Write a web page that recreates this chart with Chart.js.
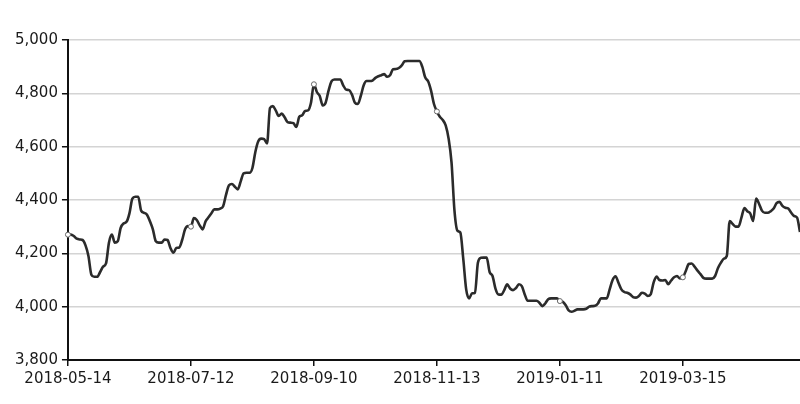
<!DOCTYPE html>
<html>
<head>
<meta charset="utf-8">
<script src="https://cdn.jsdelivr.net/npm/chart.js@4/dist/chart.umd.min.js"></script>
<style>
  html, body { margin: 0; padding: 0; background: #fff; overflow: hidden; }
  /* the original picture is cropped on the right, so the canvas runs a little past it */
  #wrap { width: 800px; height: 404px; overflow: hidden; }
</style>
</head>
<body>
<div id="wrap"><canvas id="chart" width="805" height="404"></canvas></div>
<script>
// Tick dates shown on the x axis (one every STEP points)
const tickDates = ['2018-05-14', '2018-07-12', '2018-09-10', '2018-11-13', '2019-01-11', '2019-03-15'];
const STEP = 42;

// Index level
const indexValues = [
  4270, 4270, 4265, 4255, 4252, 4250, 4230, 4190, 4120, 4112,
  4112, 4130, 4150, 4162, 4240, 4270, 4240, 4245, 4295, 4312,
  4318, 4350, 4405, 4412, 4412, 4360, 4352, 4345, 4320, 4290,
  4245, 4240, 4240, 4252, 4250, 4220, 4202, 4220, 4222, 4250,
  4290, 4302, 4300, 4332, 4325, 4305, 4290, 4320, 4335, 4350,
  4365, 4365, 4368, 4377, 4420, 4455, 4460, 4450, 4440, 4470,
  4500, 4502, 4502, 4520, 4580, 4620, 4630, 4628, 4612, 4745,
  4752, 4735, 4715, 4724, 4710, 4692, 4690, 4688, 4674, 4712,
  4718, 4734, 4736, 4765, 4834, 4805, 4790, 4755, 4765, 4810,
  4845, 4852, 4852, 4852, 4830, 4814, 4812, 4795, 4765, 4760,
  4790, 4830, 4846, 4846, 4848, 4858, 4864, 4868, 4872, 4862,
  4868, 4890, 4891, 4895, 4905, 4920, 4921, 4921, 4921, 4921,
  4921, 4900, 4860, 4845, 4810, 4760, 4732, 4712, 4700, 4680,
  4630, 4540, 4360, 4285, 4278, 4180, 4065, 4031, 4050, 4052,
  4165, 4183, 4184, 4184, 4130, 4115, 4068, 4046, 4045, 4062,
  4084, 4068, 4062, 4070, 4084, 4077, 4046, 4022, 4022, 4022,
  4022, 4015, 4002, 4012, 4028, 4031, 4031, 4031, 4021, 4018,
  4005, 3986, 3981, 3985, 3990, 3990, 3990, 3992, 4000, 4002,
  4003, 4012, 4031, 4031, 4031, 4065, 4100, 4114, 4090, 4065,
  4055, 4052, 4046, 4036, 4034, 4040, 4052, 4049, 4040, 4046,
  4090, 4113, 4100, 4098, 4100, 4084, 4098, 4110, 4115, 4106,
  4110, 4134, 4160, 4162, 4150, 4135, 4122, 4108, 4105, 4105,
  4105, 4115, 4145, 4165, 4180, 4190, 4321, 4310, 4300, 4300,
  4334, 4370, 4358, 4350, 4321, 4405, 4386, 4360, 4352, 4352,
  4358, 4368, 4388, 4393, 4378, 4371, 4368, 4352, 4340, 4334,
  4280
];

// y axis
const yMin = 3800, yMax = 5000, yStep = 200;

const labels = indexValues.map((v, i) => (i % STEP === 0 && tickDates[i / STEP]) ? tickDates[i / STEP] : '');

const font = { family: 'DejaVu Sans', size: 15 };

new Chart(document.getElementById('chart'), {
  type: 'line',
  data: {
    labels: labels,
    datasets: [{
      data: indexValues,
      borderColor: '#2b2b2b',
      borderWidth: 2.6,
      cubicInterpolationMode: 'monotone',
      pointRadius: ctx => labels[ctx.dataIndex] ? 2.5 : 0,
      pointBackgroundColor: '#fff',
      pointBorderColor: '#666',
      pointBorderWidth: 1,
      fill: false
    }]
  },
  options: {
    responsive: false,
    animation: false,
    layout: { padding: { top: 40, right: 0, bottom: 12, left: 11 } },
    plugins: { legend: { display: false }, tooltip: { enabled: false } },
    scales: {
      x: {
        offset: false,
        grid: { drawOnChartArea: false, tickColor: '#111', tickLength: 6, lineWidth: 1.5 },
        border: { color: '#111', width: 2 },
        ticks: {
          autoSkip: false,
          maxRotation: 0,
          color: '#1a1a1a',
          font: font,
          padding: 4,
          callback: (v, i) => labels[i] || null
        }
      },
      y: {
        min: yMin,
        max: yMax,
        grid: { color: '#d4d4d4', lineWidth: 1.5, tickColor: '#111', tickLength: 6 },
        border: { color: '#111', width: 2 },
        ticks: {
          stepSize: yStep,
          color: '#1a1a1a',
          font: font,
          padding: 4,
          callback: v => v.toLocaleString('en-US')
        }
      }
    }
  }
});
</script>
</body>
</html>
